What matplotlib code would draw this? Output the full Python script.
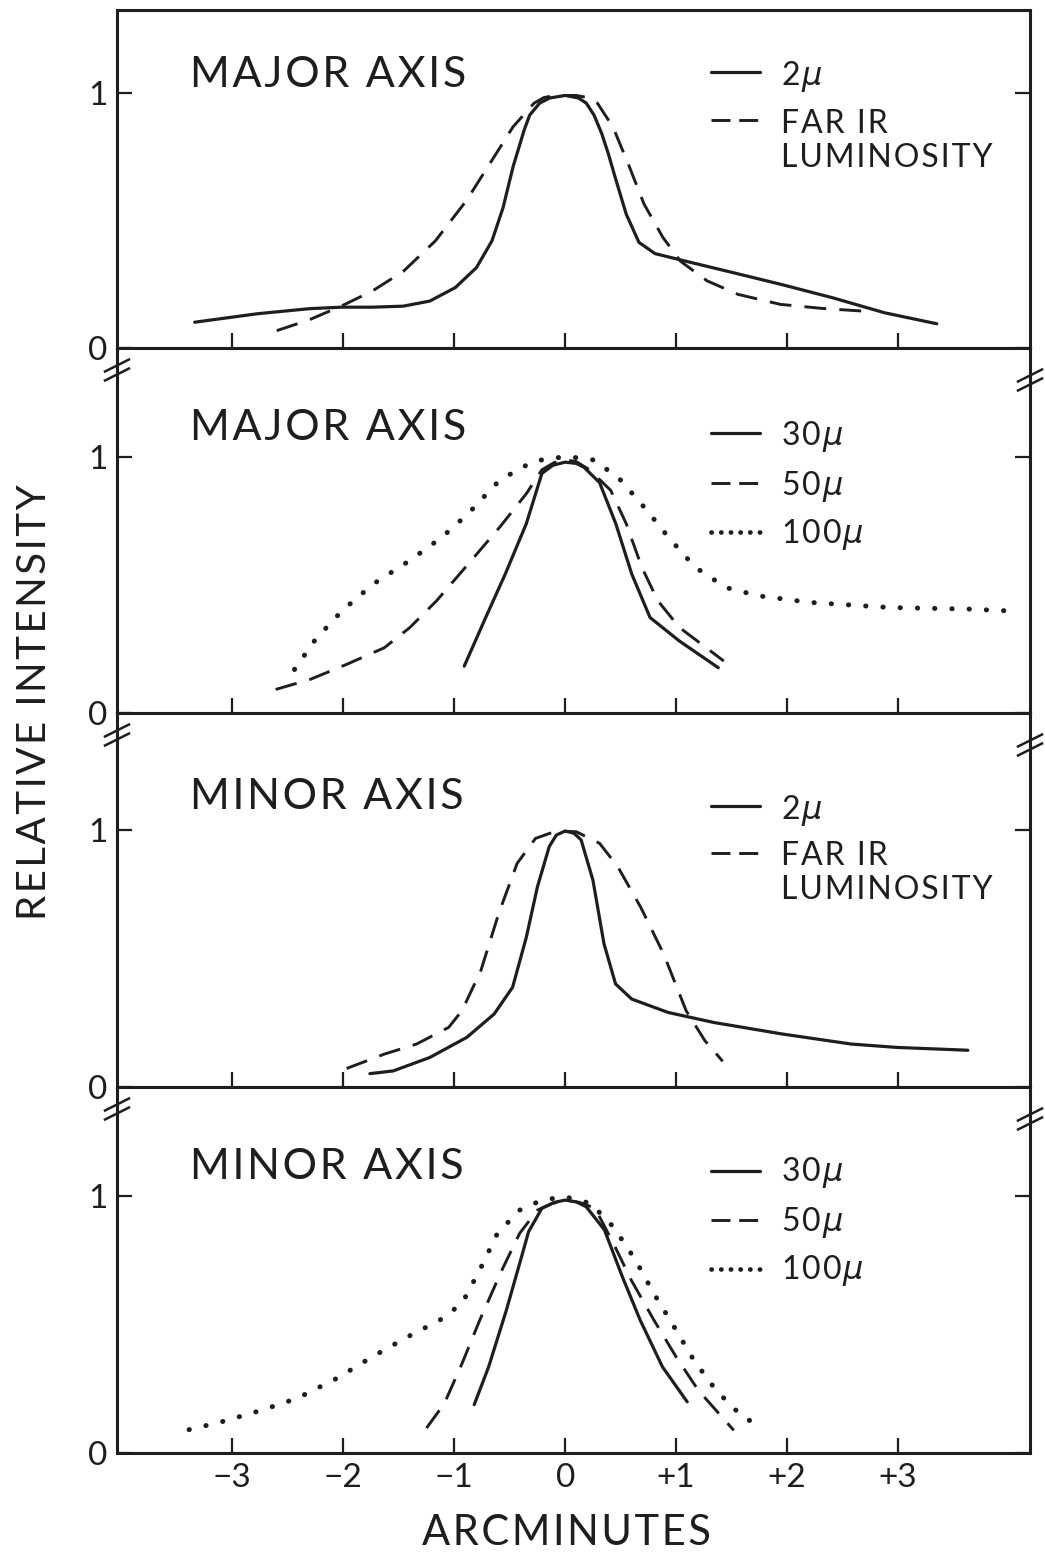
import matplotlib
matplotlib.use('Agg')
import matplotlib.pyplot as plt
from matplotlib.lines import Line2D

plt.rcParams['font.family'] = ['Lato', 'DejaVu Sans']
plt.rcParams['font.weight'] = 'normal'
plt.rcParams['mathtext.fontset'] = 'dejavusans'

# ---------------- data ----------------
x_ticks = [-3, -2, -1, 0, 1, 2, 3]
x_tick_labels = ['\u22123', '\u22122', '\u22121', '0', '+1', '+2', '+3']
y_ticks = [0, 1]
y_tick_labels = ['0', '1']

# Panel 1 : major axis, 2 micron & far-IR luminosity
maj_2mu_x = [-3.34, -2.78, -2.31, -2.02, -1.74, -1.46, -1.22, -0.99, -0.80, -0.66, -0.56,
             -0.47, -0.37, -0.32, -0.23, -0.14, 0.0, 0.12, 0.19, 0.26, 0.33, 0.39, 0.45,
             0.55, 0.665, 0.81, 1.09, 1.47, 1.94, 2.41, 2.88, 3.35]
maj_2mu_y = [0.101, 0.134, 0.154, 0.160, 0.160, 0.164, 0.184, 0.237, 0.315, 0.42, 0.55,
             0.71, 0.854, 0.913, 0.96, 0.98, 0.99, 0.98, 0.96, 0.913, 0.84, 0.76, 0.67,
             0.525, 0.414, 0.37, 0.34, 0.30, 0.25, 0.197, 0.138, 0.095]
maj_fir_x = [-2.60, -2.31, -2.02, -1.74, -1.46, -1.17, -0.89, -0.66, -0.47, -0.28, -0.19,
             -0.09, 0.10, 0.20, 0.29, 0.43, 0.57, 0.71, 0.88, 1.04, 1.28, 1.56, 1.94, 2.32, 2.67]
maj_fir_y = [0.068, 0.11, 0.164, 0.223, 0.30, 0.42, 0.578, 0.736, 0.867, 0.96, 0.982,
             0.99, 0.99, 0.982, 0.96, 0.867, 0.72, 0.565, 0.434, 0.34, 0.263, 0.21, 0.171,
             0.155, 0.145]

# Panel 2 : major axis, 30 / 50 / 100 micron
maj_30_x = [-0.91, -0.73, -0.54, -0.35, -0.21, -0.11, 0.0, 0.10, 0.17, 0.31, 0.456, 0.60,
            0.765, 1.03, 1.38]
maj_30_y = [0.183, 0.36, 0.543, 0.74, 0.936, 0.968, 0.98, 0.975, 0.96, 0.90, 0.74, 0.543,
            0.373, 0.281, 0.177]
maj_50_x = [-2.61, -2.30, -1.97, -1.63, -1.40, -1.16, -0.874, -0.59, -0.35, -0.21, -0.10,
            0.0, 0.10, 0.22, 0.41, 0.55, 0.69, 0.836, 1.03, 1.43]
maj_50_y = [0.092, 0.131, 0.19, 0.255, 0.334, 0.438, 0.582, 0.726, 0.857, 0.95, 0.978,
            0.99, 0.982, 0.95, 0.87, 0.74, 0.57, 0.438, 0.334, 0.203]
maj_100_x = [-2.44, -2.25, -2.01, -1.73, -1.40, -1.11, -0.874, -0.59, -0.30, -0.15, 0.0,
             0.13, 0.266, 0.50, 0.74, 0.93, 1.17, 1.45, 1.74, 2.21, 2.93, 3.64, 4.09]
maj_100_y = [0.17, 0.288, 0.40, 0.504, 0.596, 0.687, 0.779, 0.91, 0.98, 0.995, 1.0,
             0.997, 0.988, 0.91, 0.79, 0.687, 0.57, 0.49, 0.458, 0.432, 0.412, 0.406, 0.397]

# Panel 3 : minor axis, 2 micron & far-IR luminosity
min_2mu_x = [-1.76, -1.55, -1.22, -0.887, -0.64, -0.474, -0.35, -0.25, -0.144, -0.08, 0.0,
             0.08, 0.144, 0.25, 0.35, 0.454, 0.60, 0.928, 1.34, 1.96, 2.58, 2.99, 3.63]
min_2mu_y = [0.052, 0.0625, 0.115, 0.193, 0.284, 0.388, 0.583, 0.779, 0.935, 0.98, 0.996,
             0.987, 0.961, 0.805, 0.557, 0.401, 0.342, 0.29, 0.251, 0.206, 0.167, 0.154, 0.143]
min_fir_x = [-1.97, -1.63, -1.34, -1.05, -0.93, -0.76, -0.60, -0.433, -0.268, -0.08, 0.10,
             0.31, 0.474, 0.68, 0.887, 1.09, 1.26, 1.42]
min_fir_y = [0.072, 0.128, 0.167, 0.232, 0.297, 0.453, 0.674, 0.87, 0.967, 0.996, 0.993,
             0.948, 0.857, 0.70, 0.518, 0.297, 0.18, 0.10]

# Panel 4 : minor axis, 30 / 50 / 100 micron
min_30_x = [-0.82, -0.69, -0.53, -0.41, -0.33, -0.21, -0.10, 0.0, 0.10, 0.19, 0.354, 0.515,
            0.676, 0.877, 1.10]
min_30_y = [0.188, 0.335, 0.556, 0.738, 0.861, 0.952, 0.975, 0.984, 0.977, 0.958, 0.868,
            0.686, 0.517, 0.335, 0.199]
min_50_x = [-1.25, -1.09, -0.93, -0.77, -0.57, -0.41, -0.25, -0.12, 0.0, 0.13, 0.27, 0.434,
            0.595, 0.80, 1.0, 1.2, 1.52]
min_50_y = [0.097, 0.192, 0.348, 0.517, 0.712, 0.855, 0.945, 0.97, 0.984, 0.975, 0.952,
            0.816, 0.673, 0.517, 0.374, 0.244, 0.088]
min_100_x = [-3.39, -3.10, -2.74, -2.42, -2.06, -1.74, -1.42, -1.13, -0.93, -0.77, -0.61,
             -0.41, -0.21, 0.0, 0.23, 0.434, 0.635, 0.80, 1.0, 1.16, 1.36, 1.60, 1.79]
min_100_y = [0.091, 0.121, 0.166, 0.212, 0.29, 0.374, 0.452, 0.517, 0.582, 0.712, 0.855,
             0.945, 0.984, 0.997, 0.971, 0.88, 0.75, 0.62, 0.478, 0.361, 0.244, 0.14, 0.099]

titles = ['MAJOR AXIS', 'MAJOR AXIS', 'MINOR AXIS', 'MINOR AXIS']
y_label = 'RELATIVE INTENSITY'
x_label = 'ARCMINUTES'

# ---------------- figure ----------------
W, H = 1045, 1560
fig = plt.figure(figsize=(W / 100, H / 100), dpi=100)
fig.patch.set_facecolor('white')

INK = '#1e1e1e'
HAIR = '\u200a'


def spaced(s, sep=HAIR):
    return sep.join(s)


def fx(x):
    return x / W


def fy(y):
    return 1 - y / H


LEFT, RIGHT = 117, 1030
panel_px = [(10, 348), (348, 713), (713, 1087), (1087, 1453)]
ytops = [1.325, 1.426, 1.455, 1.424]
title_y = [0.808, 0.781, 0.775, 0.781]

solid = dict(color=INK, lw=2.3, ls='-', solid_capstyle='round', solid_joinstyle='round')
dashed = dict(color=INK, lw=2.1, ls=(0, (7.5, 4.5)), dash_capstyle='butt')
dotted = dict(color=INK, lw=3.6, ls=(0, (0.05, 3.4)), dash_capstyle='round')
dotted_key = dict(color=INK, lw=3.4, ls=(0, (0.05, 2.0)), dash_capstyle='round')
dashed_key = dict(color=INK, lw=2.1, ls=(0, (6.5, 3.0)), dash_capstyle='butt')

series = [
    [(maj_2mu_x, maj_2mu_y, solid), (maj_fir_x, maj_fir_y, dashed)],
    [(maj_30_x, maj_30_y, solid), (maj_50_x, maj_50_y, dashed), (maj_100_x, maj_100_y, dotted)],
    [(min_2mu_x, min_2mu_y, solid), (min_fir_x, min_fir_y, dashed)],
    [(min_30_x, min_30_y, solid), (min_50_x, min_50_y, dashed), (min_100_x, min_100_y, dotted)],
]

MU = '$\\mu$'
# legend definitions: (style, line y px, [(text, text y px), ...])
legends = [
    [(solid, 72, [('2' + HAIR + MU, 76)]),
     (dashed_key, 120, [(spaced('FAR IR'), 124), (spaced('LUMINOSITY'), 158)])],
    [(solid, 433, [(spaced('30') + HAIR + MU, 436)]),
     (dashed_key, 483, [(spaced('50') + HAIR + MU, 486)]),
     (dotted_key, 532, [(spaced('100') + HAIR + MU, 535)])],
    [(solid, 806, [('2' + HAIR + MU, 810)]),
     (dashed_key, 853, [(spaced('FAR IR'), 856)]),
     (None, 0, [(spaced('LUMINOSITY'), 890)])],
    [(solid, 1171, [(spaced('30') + HAIR + MU, 1173)]),
     (dashed_key, 1220, [(spaced('50') + HAIR + MU, 1222)]),
     (dotted_key, 1269, [(spaced('100') + HAIR + MU, 1270)])],
]

axes = []
for i, (top, bot) in enumerate(panel_px):
    ax = fig.add_axes([fx(LEFT), fy(bot), (RIGHT - LEFT) / W, (bot - top) / H])
    axes.append(ax)
    ax.set_xlim(-4.04, 4.19)
    ax.set_ylim(0, ytops[i])
    for s in ax.spines.values():
        s.set_linewidth(2.2)
        s.set_color(INK)
    ax.set_xticks(x_ticks)
    ax.set_xticklabels(x_tick_labels)
    ax.set_yticks(y_ticks)
    ax.set_yticklabels(y_tick_labels)
    ax.tick_params(axis='x', direction='in', length=11, width=1.6, color=INK,
                   labelsize=24, pad=7, labelcolor=INK)
    ax.tick_params(axis='y', direction='in', length=11, width=1.6, color=INK,
                   labelsize=24, pad=7, labelcolor=INK, left=True, right=True,
                   labelleft=True, labelright=False)
    for xs, ys, st in series[i]:
        ax.plot(xs, ys, **st)
    ax.text(0.080, title_y[i], spaced(titles[i]), transform=ax.transAxes, fontsize=31,
            color=INK, ha='left', va='center')

# legends drawn in figure pixel coordinates
for entries in legends:
    for st, ly, texts in entries:
        if st is not None:
            fig.add_artist(Line2D([fx(711), fx(760)], [fy(ly), fy(ly)],
                                  transform=fig.transFigure, **st))
        for t, ty in texts:
            fig.text(fx(781), fy(ty), t, fontsize=23, color=INK, ha='left', va='center')

# axis break marks "//" on the frame between panels
for (top, bot) in panel_px[:-1]:
    for xc, dy in [(LEFT, 22), (RIGHT, 32)]:
        yc = bot + dy
        for off in (-4.5, 4.5):
            fig.add_artist(Line2D([fx(xc - 12), fx(xc + 12)],
                                  [fy(yc + off + 6), fy(yc + off - 6)],
                                  transform=fig.transFigure, color=INK, lw=1.8))

fig.text(fx(35), fy(702), spaced(y_label), rotation=90, fontsize=29, color=INK,
         ha='center', va='center')
fig.text(fx(566), fy(1533), spaced(x_label), fontsize=30, color=INK, ha='center', va='center')

fig.savefig('out.png', dpi=100, facecolor='white')
